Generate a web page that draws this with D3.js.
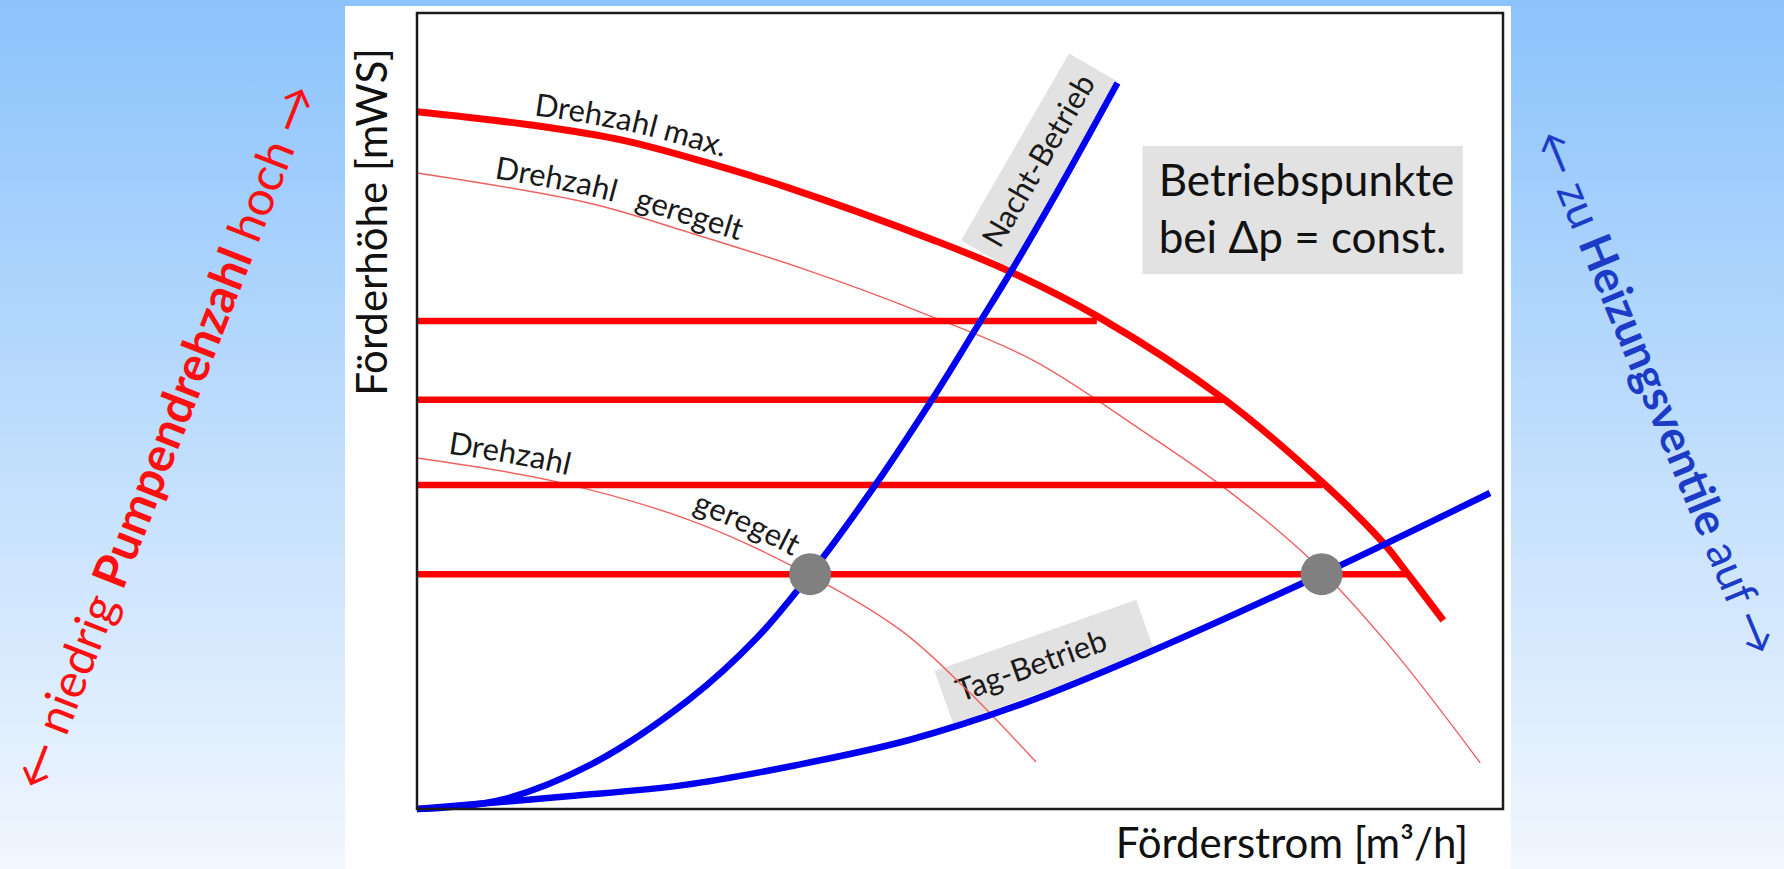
<!DOCTYPE html>
<html>
<head>
<meta charset="utf-8">
<script src="https://cdn.jsdelivr.net/npm/d3@7"></script>
<style>
  html, body { margin: 0; padding: 0; overflow: hidden; }
  svg { display: block; font-family: Lato, "Open Sans", sans-serif; }
</style>
</head>
<body>
<svg id="chart" width="1784" height="869"></svg>
<script>
// pump curve: max speed (Förderstrom %, Förderhöhe %)
const maxX = [0, 10.7, 19.0, 26.7, 34.3, 47.5, 54.3, 62.9, 74.2, 83.4, 89.0, 91.2, 94.5];
const maxY = [87.6, 85.9, 84.0, 81.2, 78.0, 71.5, 67.7, 61.7, 51.6, 41.0, 33.4, 29.6, 23.7];

// regulated speed, upper curve
const upX = [0, 15.9, 25.1, 35.9, 46.4, 56.7, 66.6, 74.2, 82.0, 89.6, 97.9];
const upY = [79.9, 76.1, 72.4, 67.7, 62.4, 56.4, 47.7, 40.5, 31.7, 20.4, 5.8];

// regulated speed, lower curve
const loX = [0, 12.9, 25.1, 34.3, 44.5, 50.6, 57.0];
const loY = [44.1, 41.1, 36.3, 30.7, 22.5, 15.0, 5.9];

// system curves
const nachtX = [0, 7.6, 15.9, 25.1, 31.3, 36.2, 42.0, 47.5, 51.8, 54.6, 58.9, 64.5];
const nachtY = [0, 1.1, 5.5, 13.8, 21.5, 29.5, 40.3, 51.6, 61.1, 67.3, 77.4, 91.2];
const tagX = [0, 13.9, 24.5, 34.9, 45.4, 55.9, 66.4, 83.3, 98.8];
const tagY = [0, 1.6, 3.0, 5.5, 8.7, 13.3, 19.1, 29.5, 39.7];

// constant dp levels and where they meet the max curve
const levelY = [61.3, 51.4, 40.7, 29.5];
const levelEnd = [62.6, 74.2, 83.4, 91.2];

// operating points
const pointX = [36.2, 83.3];
const pointY = [29.5, 29.5];

const svg = d3.select("#chart");
const W = 1784, H = 869;

// background gradient
const defs = svg.append("defs");
const grad = defs.append("linearGradient")
  .attr("id", "bg").attr("x1", 0).attr("y1", 0).attr("x2", 0).attr("y2", 1);
grad.append("stop").attr("offset", "0%").attr("stop-color", "#8bc3fb");
grad.append("stop").attr("offset", "100%").attr("stop-color", "#f1f7fe");

svg.append("rect").attr("width", W).attr("height", H).attr("fill", "url(#bg)");
svg.append("rect")
  .attr("x", 345).attr("y", 6).attr("width", 1166).attr("height", H - 6)
  .attr("fill", "#ffffff");

// scales
const x = d3.scaleLinear().domain([0, 100]).range([417, 1503]);
const y = d3.scaleLinear().domain([0, 100]).range([809, 13]);

const toPts = (xs, ys) => xs.map((v, i) => ({x: v, y: ys[i]}));
const line = d3.line()
  .x(d => x(d.x))
  .y(d => y(d.y))
  .curve(d3.curveCatmullRom.alpha(0.5));

// gray label boxes (below the lines)
const nachtBox = svg.append("g")
  .attr("transform", `translate(${x(57.3)},${y(81.4)}) rotate(-60)`);
nachtBox.append("rect")
  .attr("x", -108).attr("y", -28).attr("width", 216).attr("height", 56)
  .attr("fill", "#e2e2e2");

const tagBox = svg.append("g")
  .attr("transform", `translate(${x(57.8)},${y(18.5)}) rotate(-19.5)`);
tagBox.append("rect")
  .attr("x", -107).attr("y", -28).attr("width", 214).attr("height", 56)
  .attr("fill", "#e2e2e2");

// regulated (thin) curves
const thin = [
  {id: "upCurve", pts: toPts(upX, upY)},
  {id: "loCurve", pts: toPts(loX, loY)}
];
svg.selectAll("path.thin")
  .data(thin)
  .join("path")
    .attr("class", "thin")
    .attr("id", d => d.id)
    .attr("d", d => line(d.pts))
    .attr("fill", "none")
    .attr("stroke", "#ef6060")
    .attr("stroke-width", 1.4);

// horizontal dp = const lines
svg.selectAll("line.level")
  .data(levelY.map((v, i) => ({y: v, end: levelEnd[i]})))
  .join("line")
    .attr("class", "level")
    .attr("x1", x(0)).attr("x2", d => x(d.end))
    .attr("y1", d => y(d.y)).attr("y2", d => y(d.y))
    .attr("stroke", "#ff0000")
    .attr("stroke-width", 6.5);

// max speed curve
svg.append("path")
  .attr("id", "maxCurve")
  .attr("d", line(toPts(maxX, maxY)))
  .attr("fill", "none")
  .attr("stroke", "#ff0000")
  .attr("stroke-width", 7);

// system curves
svg.selectAll("path.sys")
  .data([toPts(nachtX, nachtY), toPts(tagX, tagY)])
  .join("path")
    .attr("class", "sys")
    .attr("d", d => line(d))
    .attr("fill", "none")
    .attr("stroke", "#0000f0")
    .attr("stroke-width", 6.5);

// operating points
svg.selectAll("circle.op")
  .data(pointX.map((v, i) => ({x: v, y: pointY[i]})))
  .join("circle")
    .attr("class", "op")
    .attr("cx", d => x(d.x)).attr("cy", d => y(d.y))
    .attr("r", 21)
    .attr("fill", "#808080");

// frame
svg.append("rect")
  .attr("x", x(0)).attr("y", y(100))
  .attr("width", x(100) - x(0)).attr("height", y(0) - y(100))
  .attr("fill", "none")
  .attr("stroke", "#1c1c1c")
  .attr("stroke-width", 2.5);

// labels along curves
function offsetAtX(node, px) {
  let lo = 0, hi = node.getTotalLength();
  for (let i = 0; i < 40; i++) {
    const mid = (lo + hi) / 2;
    if (node.getPointAtLength(mid).x < px) lo = mid; else hi = mid;
  }
  return lo;
}
const curveLabels = [
  {path: "maxCurve", text: "Drehzahl max.", at: 10.6, dy: -10},
  {path: "upCurve", text: "Drehzahl", at: 7.0, dy: -7},
  {path: "upCurve", text: "geregelt", at: 19.8, dy: -7},
  {path: "loCurve", text: "Drehzahl", at: 2.7, dy: -9},
  {path: "loCurve", text: "geregelt", at: 25.0, dy: -9}
];
curveLabels.forEach(l => {
  const node = document.getElementById(l.path);
  svg.append("text")
    .attr("dy", l.dy)
    .style("font-size", "31px")
    .attr("fill", "#1a1a1a")
    .append("textPath")
      .attr("href", "#" + l.path)
      .attr("startOffset", offsetAtX(node, x(l.at)))
      .text(l.text);
});

nachtBox.append("text")
  .attr("text-anchor", "middle").attr("dominant-baseline", "central")
  .attr("y", -2)
  .style("font-size", "31px").attr("fill", "#1a1a1a")
  .text("Nacht-Betrieb");

tagBox.append("text")
  .attr("text-anchor", "middle").attr("dominant-baseline", "central")
  .attr("x", -14).attr("y", -2)
  .style("font-size", "31px").attr("fill", "#1a1a1a")
  .text("Tag-Betrieb");

// info box
const info = svg.append("g");
info.append("rect")
  .attr("x", x(66.8)).attr("y", y(83.3))
  .attr("width", x(96.3) - x(66.8)).attr("height", y(67.2) - y(83.3))
  .attr("fill", "#e2e2e2");
info.append("text")
  .attr("x", x(68.3)).attr("y", 196)
  .style("font-size", "44px").attr("fill", "#111")
  .text("Betriebspunkte");
info.append("text")
  .attr("x", x(68.3)).attr("y", 253)
  .style("font-size", "44px").attr("fill", "#111")
  .text("bei \u0394p = const.");

// axis titles
svg.append("text")
  .attr("x", 1468).attr("y", 858)
  .attr("text-anchor", "end")
  .style("font-size", "42px").attr("fill", "#111")
  .text("Förderstrom [m³/h]");

svg.append("text")
  .attr("transform", "translate(387,222) rotate(-90)")
  .attr("text-anchor", "middle")
  .style("font-size", "42px").attr("fill", "#111")
  .text("Förderhöhe [mWS]");

// side captions
const leftCap = svg.append("text")
  .attr("transform", "translate(163,436) rotate(-68.7)")
  .attr("text-anchor", "middle").attr("dominant-baseline", "central")
  .style("font-size", "48px").attr("fill", "#ff1010");
[["\u2190 niedrig ", 400], ["Pumpendrehzahl", 700], [" hoch \u2192", 400]].forEach(p => {
  leftCap.append("tspan").style("font-weight", p[1]).text(p[0]);
});

const rightCap = svg.append("text")
  .attr("transform", "translate(1658,392) rotate(67.5)")
  .attr("text-anchor", "middle").attr("dominant-baseline", "central")
  .style("font-size", "45px").attr("fill", "#1c3cc8");
[["\u2190 zu ", 400], ["Heizungsventile", 700], [" auf \u2192", 400]].forEach(p => {
  rightCap.append("tspan").style("font-weight", p[1]).text(p[0]);
});
</script>
</body>
</html>
